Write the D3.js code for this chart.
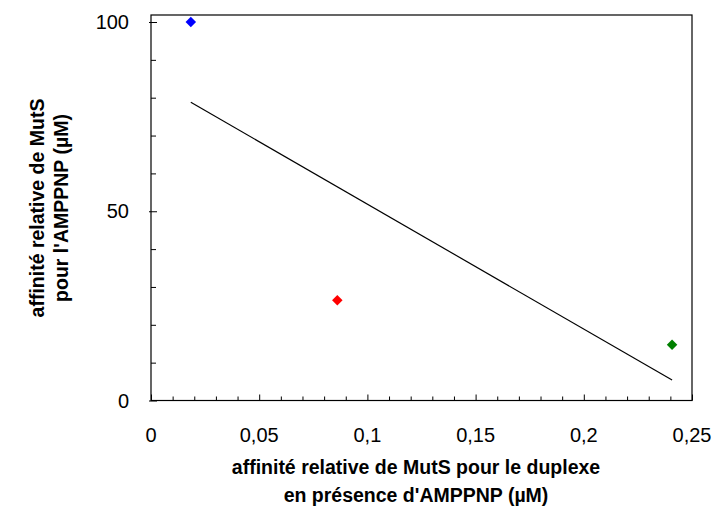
<!DOCTYPE html>
<html>
<head>
<meta charset="utf-8">
<script src="https://cdn.jsdelivr.net/npm/d3@7"></script>
<style>
  body { margin: 0; background: #fff; }
  svg { display: block; font-family: "Liberation Sans", Arial, sans-serif; }
</style>
</head>
<body>
<div id="chart"></div>
<script>
"use strict";

// points
const pointX = [0.0184, 0.0861, 0.2408];
const pointY = [100, 26.5, 14.7];
const pointColors = ["#0000ff", "#ff0000", "#008000"];

// trend line endpoints (x, y)
const trendX = [0.0184, 0.2408];
const trendY = [78.8, 5.4];

const xTicks = [0, 0.05, 0.1, 0.15, 0.2, 0.25];
const xTickLabels = ["0", "0,05", "0,1", "0,15", "0,2", "0,25"];
const yTicks = [0, 50, 100];
const yTickLabels = ["0", "50", "100"];

const xTitle = ["affinité relative de MutS pour le duplexe", "en présence d'AMPPNP (µM)"];
const yTitle = ["affinité relative de MutS", "pour l'AMPPNP (µM)"];

const W = 717;
const H = 530;
const plotL = 151;
const plotR = 692;
const plotT = 15;
const plotB = 400.5;

const svg = d3
  .select("#chart")
  .append("svg")
  .attr("width", W)
  .attr("height", H);

const x = d3.scaleLinear().domain([0, 0.25]).range([plotL, plotR]);
const y = d3.scaleLinear().domain([0, 100]).range([plotB, 22]);

// frame
svg
  .append("rect")
  .attr("x", plotL)
  .attr("y", plotT)
  .attr("width", plotR - plotL)
  .attr("height", plotB - plotT)
  .attr("fill", "none")
  .attr("stroke", "#000")
  .attr("stroke-width", 1.2);

// x axis, ticks pointing inward
const xMinor = d3.range(0, 26).map((d) => d / 100);
const xAxis = d3
  .axisBottom(x)
  .tickValues(xMinor)
  .tickSize(-4)
  .tickFormat("");
const gx = svg
  .append("g")
  .attr("transform", `translate(0,${plotB})`)
  .call(xAxis);
gx.select(".domain").remove();
gx.selectAll(".tick line")
  .attr("stroke", "#000")
  .attr("y2", (d, i) => (i % 5 === 0 ? -6 : -4));

svg
  .append("g")
  .selectAll("text")
  .data(xTicks)
  .enter()
  .append("text")
  .attr("x", (d) => x(d))
  .attr("y", plotB + 41)
  .attr("text-anchor", "middle")
  .attr("font-size", "20px")
  .attr("fill", "#000")
  .text((d, i) => xTickLabels[i]);

// y axis
const yMinor = d3.range(0, 101, 10);
const yAxis = d3.axisLeft(y).tickValues(yMinor).tickSize(-5).tickFormat("");
const gy = svg
  .append("g")
  .attr("transform", `translate(${plotL},0)`)
  .call(yAxis);
gy.select(".domain").remove();
gy.selectAll(".tick line")
  .attr("stroke", "#000")
  .attr("x1", (d) => (d % 50 === 0 ? -2 : 0))
  .attr("x2", (d) => (d % 50 === 0 ? 6 : 5));

svg
  .append("g")
  .selectAll("text")
  .data(yTicks)
  .enter()
  .append("text")
  .attr("x", 129)
  .attr("y", (d) => y(d))
  .attr("dy", "0.35em")
  .attr("text-anchor", "end")
  .attr("font-size", "20px")
  .attr("fill", "#000")
  .text((d, i) => yTickLabels[i]);

// trend line
svg
  .append("line")
  .attr("x1", x(trendX[0]))
  .attr("y1", y(trendY[0]))
  .attr("x2", x(trendX[1]))
  .attr("y2", y(trendY[1]))
  .attr("stroke", "#000")
  .attr("stroke-width", 1.2);

// diamonds
svg
  .selectAll("path.pt")
  .data(pointX)
  .enter()
  .append("path")
  .attr("class", "pt")
  .attr("d", d3.symbol().type(d3.symbolSquare).size(55))
  .attr("transform", (d, i) => `translate(${x(d)},${y(pointY[i])}) rotate(45)`)
  .attr("fill", (d, i) => pointColors[i]);

// axis titles
svg
  .append("text")
  .attr("x", 416)
  .attr("y", 474)
  .attr("text-anchor", "middle")
  .attr("font-size", "19.5px")
  .attr("font-weight", "bold")
  .selectAll("tspan")
  .data(xTitle)
  .enter()
  .append("tspan")
  .attr("x", 416)
  .attr("dy", (d, i) => (i === 0 ? 0 : 28))
  .text((d) => d);

svg
  .append("text")
  .attr("transform", "translate(44,208) rotate(-90)")
  .attr("text-anchor", "middle")
  .attr("font-size", "19.5px")
  .attr("font-weight", "bold")
  .selectAll("tspan")
  .data(yTitle)
  .enter()
  .append("tspan")
  .attr("x", 0)
  .attr("dy", (d, i) => (i === 0 ? 0 : 24))
  .text((d) => d);
</script>
</body>
</html>
